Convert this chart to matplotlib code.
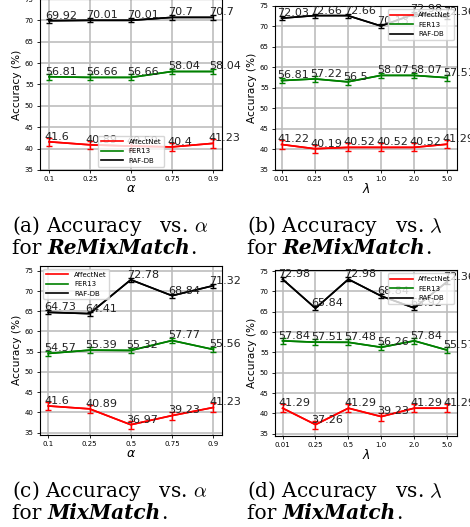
import matplotlib
matplotlib.use("Agg")
from matplotlib import pyplot as plt

W, H = 470, 527

alpha_ticks = ["0.1", "0.25", "0.5", "0.75", "0.9"]
lambda_ticks = ["0.01", "0.25", "0.5", "1.0", "2.0", "5.0"]
series_names = ["AffectNet", "FER13", "RAF-DB"]
series_colors = ["red", "green", "black"]

# (a) ReMixMatch, alpha
remix_alpha_affectnet = [41.6, 40.89, 40.59, 40.4, 41.23]
remix_alpha_fer13 = [56.81, 56.66, 56.66, 58.04, 58.04]
remix_alpha_rafdb = [69.92, 70.01, 70.01, 70.7, 70.7]

# (b) ReMixMatch, lambda
remix_lambda_affectnet = [41.22, 40.19, 40.52, 40.52, 40.52, 41.29]
remix_lambda_fer13 = [56.81, 57.22, 56.5, 58.07, 58.07, 57.51]
remix_lambda_rafdb = [72.03, 72.66, 72.66, 70.13, 72.98, 72.36]

# (c) MixMatch, alpha
mix_alpha_affectnet = [41.6, 40.89, 36.97, 39.23, 41.23]
mix_alpha_fer13 = [54.57, 55.39, 55.32, 57.77, 55.56]
mix_alpha_rafdb = [64.73, 64.41, 72.78, 68.84, 71.32]

# (d) MixMatch, lambda
mix_lambda_affectnet = [41.29, 37.26, 41.29, 39.23, 41.29, 41.29]
mix_lambda_fer13 = [57.84, 57.51, 57.48, 56.26, 57.84, 55.57]
mix_lambda_rafdb = [72.98, 65.84, 72.98, 68.84, 65.92, 72.36]

# error bar half widths per series (estimated)
series_err = [1.0, 0.7, 0.5]

CAP_FONT = "DejaVu Serif"
CAP_SIZE = 14.5


def px_box(left, top, right, bottom):
    return [left / W, 1 - bottom / H, (right - left) / W, (bottom - top) / H]


def draw_panel(ax, ticks, data, xlabel, xlim, ylim, legend_loc):
    x = list(range(len(ticks)))
    for vals, name, color, err in zip(data, series_names, series_colors, series_err):
        ax.errorbar(x, vals, yerr=err, color=color, lw=1.2, capsize=2,
                    elinewidth=1.0, capthick=1.0, zorder=3)
        ax.plot(x, vals, color=color, lw=1.2, label=name, zorder=3)
        for xi, v in zip(x, vals):
            ax.annotate(str(v), (xi, v), xytext=(-3, 1.5), textcoords="offset points",
                        ha="left", va="baseline", fontsize=8, color="#222222", zorder=4)
    ax.set_xticks(x)
    ax.set_xticklabels(ticks)
    ax.set_xlim(*xlim)
    ax.set_ylim(*ylim)
    ax.set_yticks(range(35, 80, 5))
    ax.grid(True, color="#bdbdbd", linewidth=1.2)
    ax.set_axisbelow(True)
    ax.tick_params(labelsize=5, length=2.5, width=0.6, pad=2)
    ax.set_xlabel(xlabel, fontsize=9, labelpad=0)
    ax.set_ylabel("Accuracy (%)", fontsize=7.6, labelpad=2)
    ax.legend(loc=legend_loc, fontsize=5, handlelength=3.2, framealpha=0.8)


def caption(fig, x, y1, label, var, method):
    r = fig.canvas.get_renderer()
    fig.text(x / W, 1 - y1 / H, "(%s) Accuracy   vs. $\\%s$" % (label, var),
             fontsize=CAP_SIZE, family=CAP_FONT, va="baseline", math_fontfamily="cm")
    y2 = 1 - (y1 + 22) / H
    t = fig.text(x / W, y2, "for ", fontsize=CAP_SIZE, family=CAP_FONT, va="baseline")
    x_next = t.get_window_extent(r).x1
    t = fig.text(x_next / W, y2, method, fontsize=CAP_SIZE, family=CAP_FONT,
                 weight="bold", style="italic", va="baseline")
    x_next = t.get_window_extent(r).x1
    fig.text(x_next / W, y2, ".", fontsize=CAP_SIZE, family=CAP_FONT, va="baseline")


if __name__ == "__main__":
    fig = plt.figure(figsize=(W / 100, H / 100), dpi=100)

    ax_a = fig.add_axes(px_box(40, -1, 222, 170))
    draw_panel(ax_a, alpha_ticks,
               [remix_alpha_affectnet, remix_alpha_fer13, remix_alpha_rafdb],
               r"$\alpha$", (-0.22, 4.22), (37.87, 74.3), "lower center")

    ax_b = fig.add_axes(px_box(275, 6, 457, 170))
    draw_panel(ax_b, lambda_ticks,
               [remix_lambda_affectnet, remix_lambda_fer13, remix_lambda_rafdb],
               r"$\lambda$", (-0.2, 5.3), (37.73, 75.0), "upper right")

    ax_c = fig.add_axes(px_box(40, 265.5, 222, 435))
    draw_panel(ax_c, alpha_ticks,
               [mix_alpha_affectnet, mix_alpha_fer13, mix_alpha_rafdb],
               r"$\alpha$", (-0.2, 4.21), (34.43, 76.3), "upper left")

    ax_d = fig.add_axes(px_box(275, 270, 457, 435.5))
    draw_panel(ax_d, lambda_ticks,
               [mix_lambda_affectnet, mix_lambda_fer13, mix_lambda_rafdb],
               r"$\lambda$", (-0.23, 5.3), (34.58, 75.25), "upper right")

    caption(fig, 12, 232, "a", "alpha", "ReMixMatch")
    caption(fig, 247, 232, "b", "lambda", "ReMixMatch")
    caption(fig, 12, 497, "c", "alpha", "MixMatch")
    caption(fig, 247, 497, "d", "lambda", "MixMatch")

    fig.savefig("out.png", dpi=100)
